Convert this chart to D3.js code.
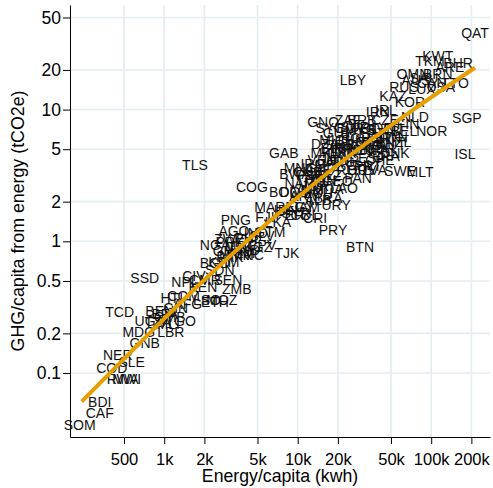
<!DOCTYPE html>
<html><head><meta charset="utf-8">
<script src="https://cdn.jsdelivr.net/npm/d3@7"></script>
<style>
body{margin:0;background:#fff}
svg{display:block}
text{font-family:"Liberation Sans",Arial,Helvetica,sans-serif}
</style>
</head><body><svg id="c" width="493" height="488"></svg>
<script>
const iso = ["QAT","KWT","TKM","BHR","ARE","OMN","BRN","SAU","AUS","TTO","CAN","USA","RUS","LUX","KAZ","KOR","LBY","SGP","ISL","NOR","IRL","IRN","NLD","FIN","BEL","TWN","FRA","CHE","SWE","MLT","PAN","GNQ","ZAF","DZA","GAB","TLS","COG","BWA","URY","PRY","BTN","TJK","PNG","AGO","ZWE","NGA","SSD","TCD","MDG","LBR","GNB","NER","SLE","COD","RWA","MWI","BDI","CAF","SOM","ZMB","HTI","COM","LSO","ETH","MOZ","BEN","GIN","BFA","UGA","TGO","MLI","TZA","NPL","CIV","KEN","CMR","SEN","BGD","KHM","PAK","MMR","SDN","GHA","YEM","MRT","NIC","HND","KGZ","PHL","IND","SLV","GTM","FJI","LKA","MAR","IDN","SYR","EGY","CRI","COL","PER","JAM","BOL","DOM","VNM","ECU","BRA","LAO","ALB","ARM","NAM","UZB","GEO","TUN","JOR","MDA","MNG","CUB","IRQ","VEN","AZE","MEX","ARG","THA","TUR","UKR","MKD","BIH","SRB","CHN","MYS","CHL","ROU","PRT","HRV","LVA","ITA","ESP","GBR","GRC","HUN","SVK","BGR","POL","DEU","CZE","EST","BLR","AUT","DNK","NZL","JPN","ISR","CYP","SVN","LTU","MNE","MUS","LBN","SUR","GUY","BLZ","SWZ","PSE","SYC","BRB","AFG","GMB","PRK","CPV"];
const energy = [213000,112000,97900,159000,138000,73000,112000,88300,76900,150700,101000,118000,62500,85300,51700,69300,25900,185000,179000,101000,45800,39900,75600,67000,62500,50800,45800,41300,58400,82400,28300,15500,23800,16000,7880,1700,4540,9530,19400,18400,29300,8300,3440,3330,3100,2400,715,464,645,1120,715,449,571,405,489,524,329,329,233,3500,1140,1400,2090,2400,2700,926,1220,1010,779,1330,1070,895,1430,1670,1950,2020,3000,2400,2800,3100,3440,2610,3000,3690,3690,4540,4020,5030,4240,4860,5390,6190,5680,7110,6190,8160,9700,10400,13500,11300,8740,11500,7750,9700,11900,14200,16900,22200,14200,11300,10400,12800,19700,15200,13500,16900,10400,11900,13000,15200,14200,17400,20700,19000,22600,21500,16300,18100,20700,24600,29300,29300,25500,33600,30300,37900,39900,36000,41300,32500,28300,36000,27300,31900,47400,45000,36000,24600,50800,53500,56400,47400,39900,34800,42800,30300,24600,19000,22200,26900,20000,17400,14700,12350,17400,30300,1500,1100,3100,5390];
const ghg = [38.3,25.6,23.5,22.7,21.1,18.7,18.7,17.2,16.6,16.0,15.8,14.9,14.9,14.4,12.6,11.3,16.6,8.55,4.56,6.82,9.83,9.49,8.70,7.70,6.82,6.14,4.40,4.11,3.39,3.33,3.00,7.98,8.26,5.43,4.64,3.77,2.57,3.22,1.87,1.21,0.90,0.81,1.44,1.19,1.04,0.93,0.53,0.29,0.206,0.206,0.169,0.137,0.122,0.109,0.0906,0.0906,0.0598,0.0499,0.0403,0.43,0.37,0.383,0.36,0.348,0.36,0.295,0.313,0.28,0.25,0.246,0.234,0.242,0.49,0.54,0.452,0.51,0.51,0.685,0.697,0.753,0.78,0.60,0.85,0.81,0.92,0.78,0.865,0.91,1.06,1.15,1.09,1.17,1.52,1.39,1.81,1.72,1.63,1.81,1.49,1.57,1.57,1.81,2.35,2.35,2.43,2.31,2.12,2.52,2.04,2.19,2.75,2.80,2.85,2.90,2.61,2.47,3.57,3.33,3.84,4.11,3.45,3.77,3.97,4.25,4.11,4.64,4.64,5.06,5.34,5.82,6.94,3.77,3.45,3.70,3.45,3.45,4.89,4.25,5.06,5.34,4.89,5.34,6.04,7.18,7.18,8.26,6.59,7.18,5.34,4.64,5.62,6.04,6.04,5.62,6.94,4.89,4.89,5.82,5.06,7.31,6.59,3.16,3.16,3.16,7.18,8.26,0.336,0.266,0.985,0.93];
const fitEnergy = [241,656,1730,4385,10400,24600,71800,212800];
const fitGhg = [0.0608,0.169,0.444,1.056,2.23,4.48,9.83,20.8];
const xTicks = [500,1000,2000,5000,10000,20000,50000,100000,200000];
const xTickLabels = ["500","1k","2k","5k","10k","20k","50k","100k","200k"];
const yTicks = [0.1,0.2,0.5,1,2,5,10,20,50];
const yTickLabels = ["0.1","0.2","0.5","1","2","5","10","20","50"];
const xTitle = "Energy/capita (kwh)";
const yTitle = "GHG/capita from energy (tCO2e)";

const svg = d3.select("#c");
svg.append("rect").attr("width",493).attr("height",488).attr("fill","#fff");
const L=70, R=490, T=5, B=437;
const x = d3.scaleLog().domain([197,275700]).range([L,R]);
const y = d3.scaleLog().domain([0.0327,62.2]).range([B,T]);

// grid
const grid = svg.append("g").attr("stroke","#e4edf1").attr("stroke-width",1.6);
grid.selectAll("line.v").data(xTicks).join("line")
  .attr("x1",d=>x(d)).attr("x2",d=>x(d)).attr("y1",T).attr("y2",B);
grid.selectAll("line.h").data(yTicks).join("line")
  .attr("x1",L).attr("x2",R).attr("y1",d=>y(d)).attr("y2",d=>y(d));

// axes
const xa = svg.append("g").attr("transform",`translate(0,${B})`)
  .call(d3.axisBottom(x).tickValues(xTicks).tickFormat((d,i)=>xTickLabels[i]).tickSizeInner(7).tickSizeOuter(0).tickPadding(9));
xa.attr("font-family",null).attr("font-size",null);
xa.selectAll("text").attr("font-size",16.5).attr("fill","#000");
xa.selectAll("line,path").attr("stroke","#000");
const ya = svg.append("g").attr("transform",`translate(${L},0)`)
  .call(d3.axisLeft(y).tickValues(yTicks).tickFormat((d,i)=>yTickLabels[i]).tickSizeInner(7).tickSizeOuter(0).tickPadding(2));
ya.attr("font-family",null).attr("font-size",null);
ya.selectAll("text").attr("font-size",17.5).attr("fill","#000");
ya.selectAll("line,path").attr("stroke","#000");

// titles
svg.append("text").attr("x",(L+R)/2).attr("y",482).attr("text-anchor","middle")
  .attr("font-size",17.7).attr("fill","#000").text(xTitle);
svg.append("text").attr("transform",`translate(23.5,${(T+B)/2}) rotate(-90)`).attr("text-anchor","middle")
  .attr("font-size",17.8).attr("fill","#000").text(yTitle);

// labels
svg.append("g").selectAll("text").data(iso).join("text")
  .attr("x",(d,i)=>x(energy[i])).attr("y",(d,i)=>y(ghg[i]))
  .attr("dy","0.35em").attr("text-anchor","middle")
  .attr("font-size",14).attr("fill","#111").text(d=>d);

// fit line
const pts = fitEnergy.map((e,i)=>[x(e),y(fitGhg[i])]);
svg.append("path").attr("d",d3.line().curve(d3.curveMonotoneX)(pts))
  .attr("fill","none").attr("stroke","#e69f00").attr("stroke-width",4).attr("stroke-linecap","butt");
</script>
</body></html>
